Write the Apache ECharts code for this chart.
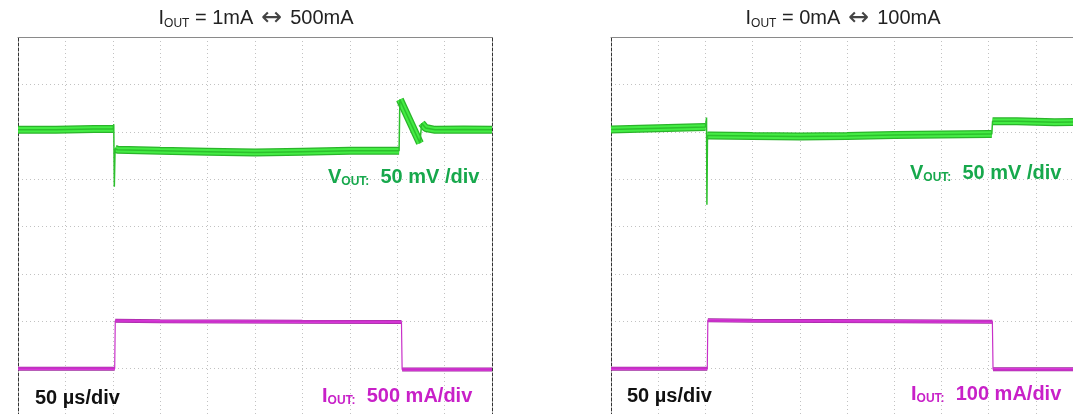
<!DOCTYPE html>
<html>
<head>
<meta charset="utf-8">
<title>Load transient</title>
<script src="https://cdn.jsdelivr.net/npm/echarts@6.0.0/dist/echarts.min.js"></script>
<style>
  html, body { margin: 0; padding: 0; background: #fff; }
  #chart { width: 1073px; height: 414px; }
</style>
</head>
<body>
<div id="chart"></div>
<script>
// time in us (50 us/div), VOUT as mV deviation, IOUT in mA

// left shot: IOUT = 1mA <-> 500mA
const vLeftTime = [0, 40, 80, 100.5, 101, 101.6, 102.4, 105, 150, 200, 250, 300, 350, 402, 402.8, 424, 425.8, 430, 440, 470, 500];
const vLeftMv   = [2, 2, 3, 3, 8, -58, -18, -19, -20, -21, -22, -21, -20, -20, 34, -12, 9, 4, 2, 2.5, 2];
const iLeftTime = [0, 102, 102.6, 150, 300, 404.5, 405.2, 500];
const iLeftMa   = [0, 0, 505, 500, 495, 492, -8, -8];

// right shot: IOUT = 0mA <-> 100mA
const vRightTime = [0, 40, 80, 100, 101.2, 101.6, 102.2, 103, 105, 150, 200, 250, 300, 350, 400, 403.4, 404.2, 430, 470, 500];
const vRightMv   = [2.5, 3.5, 4.5, 5, 15, -77, -4, -5, -4, -4.5, -5, -4.5, -3.5, -3, -2.5, -2.5, 11, 11, 10, 10.5];
const iRightTime = [0, 102, 102.6, 150, 300, 404, 404.7, 500];
const iRightMa   = [0, 0, 102, 101, 100, 99, -1.5, -1.5];

const FONT = '"Liberation Sans", Arial, sans-serif';

function pairs(t, v) {
  return t.map((x, i) => [x, v[i]]);
}
// thick noise band only on the slow parts, fast edges stay thin
function band(t, v, maxSlope) {
  let out = [];
  for (let i = 0; i < t.length; i++) {
    out.push([t[i], v[i]]);
    if (i < t.length - 1) {
      let slope = Math.abs(v[i + 1] - v[i]) / (t[i + 1] - t[i]);
      if (slope > maxSlope) out.push([(t[i] + t[i + 1]) / 2, '-']);
    }
  }
  return out;
}

function xAxisFor(idx) {
  return {
    gridIndex: idx, type: 'value', min: 0, max: 500, interval: 50, position: 'top',
    axisLine: { show: true, onZero: false, lineStyle: { color: '#8a8a8a', width: 1 } },
    axisTick: { show: false }, axisLabel: { show: false },
    splitLine: { show: true, lineStyle: { color: '#c2c2c2', type: [1, 3], width: 1 } }
  };
}
function vAxisFor(idx) {
  return {
    gridIndex: idx, type: 'value', min: -300, max: 100, interval: 50, position: 'left',
    axisLine: { show: true, onZero: false, lineStyle: { color: '#333', type: [3, 2], width: 1 } },
    axisTick: { show: false }, axisLabel: { show: false },
    splitLine: { show: true, lineStyle: { color: '#c2c2c2', type: [1, 3], width: 1 } }
  };
}
function iAxisFor(idx, perDiv) {
  return {
    gridIndex: idx, type: 'value', min: -perDiv, max: perDiv * 7, interval: perDiv, position: 'right',
    axisLine: { show: true, onZero: false, lineStyle: { color: '#333', type: [3, 2], width: 1 } },
    axisTick: { show: false }, axisLabel: { show: false }, splitLine: { show: false }
  };
}

function traces(idx, vt, vv, it, iv) {
  let base = { type: 'line', xAxisIndex: idx, showSymbol: false, symbol: 'none', silent: true, animation: false, connectNulls: false };
  return [
    Object.assign({}, base, { yAxisIndex: idx * 2, data: band(vt, vv, 5), lineStyle: { color: '#2ab42a', width: 8 } }),
    Object.assign({}, base, { yAxisIndex: idx * 2, data: band(vt, vv, 5), lineStyle: { color: '#44ec44', width: 5.5 } }),
    Object.assign({}, base, { yAxisIndex: idx * 2, data: pairs(vt, vv), lineStyle: { color: '#2cc02c', width: 1.5 } }),
    Object.assign({}, base, { yAxisIndex: idx * 2 + 1, data: band(it, iv, 50), lineStyle: { color: '#a02aa0', width: 4 } }),
    Object.assign({}, base, { yAxisIndex: idx * 2 + 1, data: band(it, iv, 50), lineStyle: { color: '#e03ae0', width: 2.5 } }),
    Object.assign({}, base, { yAxisIndex: idx * 2 + 1, data: pairs(it, iv), lineStyle: { color: '#c830c8', width: 1.2 } })
  ];
}

const headRich = {
  a: { fontFamily: FONT, fontSize: 20, fontWeight: 'normal', color: '#222', lineHeight: 24 },
  s: { fontFamily: FONT, fontSize: 12, fontWeight: 'normal', color: '#222', lineHeight: 24, padding: [11, 0, 0, 0] },
  r: { fontFamily: '"DejaVu Sans", sans-serif', fontSize: 25, fontWeight: 'normal', color: '#444', lineHeight: 24 }
};
function labelRich(color) {
  return {
    m: { fontFamily: FONT, fontSize: 20, fontWeight: 'bold', color: color, lineHeight: 24 },
    s: { fontFamily: FONT, fontSize: 12, fontWeight: 'bold', color: color, lineHeight: 24, padding: [10, 0, 0, 0] }
  };
}
function label(text, x, y, color) {
  return { text: text, left: x, top: y, padding: 0, textStyle: { rich: labelRich(color) } };
}
function head(text, x) {
  return { text: text, left: x, top: 6, textAlign: 'center', padding: 0, textStyle: { fontWeight: 'normal', rich: headRich } };
}

const GREEN = '#17a84c';
const PINK = '#c820c8';

let option = {
  backgroundColor: '#fff',
  animation: false,
  title: [
    head('{a|I}{s|OUT}{a| = 1mA}{r| ↔ }{a|500mA}', 256),
    head('{a|I}{s|OUT}{a| = 0mA}{r| ↔ }{a|100mA}', 843),
    label('{m|V}{s|OUT:}{m|  50 mV /div}', 328, 165, GREEN),
    label('{m|50 µs/div}', 35, 386, '#111'),
    label('{m|I}{s|OUT:}{m|  500 mA/div}', 322, 384, PINK),
    label('{m|V}{s|OUT:}{m|  50 mV /div}', 910, 161, GREEN),
    label('{m|50 µs/div}', 627, 384, '#111'),
    label('{m|I}{s|OUT:}{m|  100 mA/div}', 911, 382, PINK)
  ],
  grid: [
    { left: 18, top: 37, width: 474, height: 379, outerBoundsMode: 'none' },
    { left: 611, top: 37, width: 472, height: 379, outerBoundsMode: 'none' }
  ],
  xAxis: [xAxisFor(0), xAxisFor(1)],
  yAxis: [vAxisFor(0), iAxisFor(0, 500), vAxisFor(1), iAxisFor(1, 100)],
  series: [].concat(
    traces(0, vLeftTime, vLeftMv, iLeftTime, iLeftMa),
    traces(1, vRightTime, vRightMv, iRightTime, iRightMa)
  )
};

let myChart = echarts.init(document.getElementById('chart'), null, { renderer: 'canvas' });
myChart.setOption(option);
</script>
</body>
</html>
